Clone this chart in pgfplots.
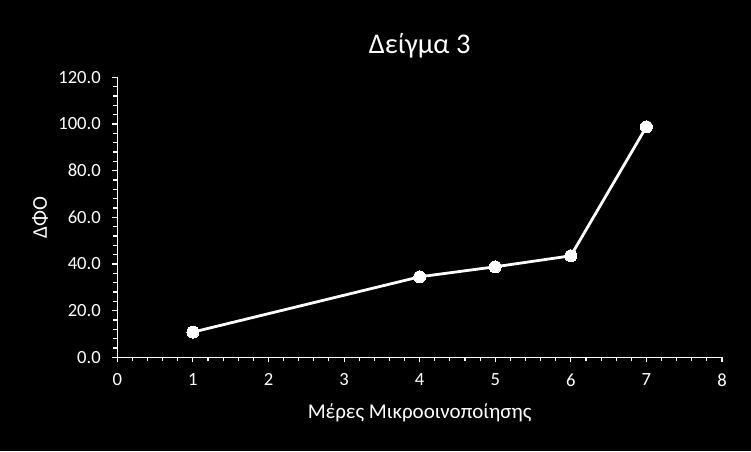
\documentclass[border=0pt]{standalone}
\usepackage{fontspec}
\setmainfont{Carlito}
\usepackage{pgfplots}
\pgfplotsset{compat=1.18}

\begin{document}
\begin{tikzpicture}[x=1pt,y=1pt]
  % black page, 751 x 451
  \fill[black] (0,0) rectangle (751,451);
  \begin{axis}[
      at={(117.3pt,93.7pt)}, anchor=south west,
      width=604.7pt, height=280pt, scale only axis,
      xmin=0, xmax=8, ymin=0, ymax=120,
      xtick={0,...,8}, ytick={0,20,...,120},
      minor x tick num=4, minor y tick num=4,
      axis lines=left, axis line style={white, line width=1.3pt, -},
      tick align=outside, tick pos=left,
      major tick length=5pt, minor tick length=4pt,
      every tick/.style={white, line width=1.1pt},
      tick label style={white, font=\fontsize{18.6}{21}\selectfont},
      /pgf/number format/assume math mode=true,
      yticklabel style={/pgf/number format/fixed, /pgf/number format/fixed zerofill,
        /pgf/number format/precision=1, xshift=-8pt},
      xticklabel style={yshift=-8pt},
      title={Δείγμα 3},
      title style={white, font=\fontsize{28.5}{32}\selectfont, at={(axis description cs:0.5,1)}, anchor=center, yshift=26pt},
      xlabel={Μέρες Μικροοινοποίησης},
      ylabel={ΔΦΟ},
      label style={white, font=\fontsize{21}{24}\selectfont},
      xlabel style={at={(axis description cs:0.5,0)}, anchor=center, yshift=-55pt},
      ylabel style={at={(axis description cs:-0.1278,0.5)}, anchor=center},
      clip=false,
    ]
    \addplot[white, line width=2.8pt, mark=*, mark size=6pt, mark options={fill=white, draw=white, line width=0pt}]
      coordinates {(1,10.8) (4,34.5) (5,38.8) (6,43.5) (7,98.8)};
  \end{axis}
\end{tikzpicture}
\end{document}
